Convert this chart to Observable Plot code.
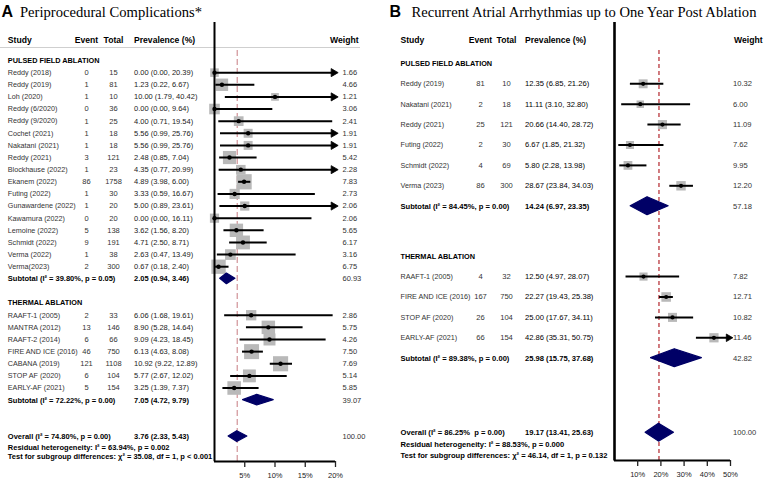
<!DOCTYPE html>
<html><head><meta charset="utf-8">
<script src="https://cdn.jsdelivr.net/npm/d3@7"></script>
<script src="https://cdn.jsdelivr.net/npm/@observablehq/plot@0.6"></script>
<style>
body{margin:0;background:#fff;}
#wrap{position:relative;width:765px;height:480px;overflow:hidden;background:#fff;}
.panel{position:absolute;top:20px;}
#titles{position:absolute;left:0;top:0;}
</style></head>
<body>
<div id="wrap">
<svg id="titles" width="765" height="22">
  <text x="1.5" y="16.7" font-family="'Liberation Sans',Arial,sans-serif" font-weight="bold" font-size="16">A</text>
  <text x="20" y="16.7" font-family="'Liberation Serif','Times New Roman',serif" font-size="14.6">Periprocedural Complications*</text>
  <text x="389.5" y="16.7" font-family="'Liberation Sans',Arial,sans-serif" font-weight="bold" font-size="16">B</text>
  <text x="411.5" y="16.7" font-family="'Liberation Serif','Times New Roman',serif" font-size="14.6">Recurrent Atrial Arrhythmias up to One Year Post Ablation</text>
</svg>
<div id="pA" class="panel" style="left:0"></div>
<div id="pB" class="panel" style="left:385px"></div>
</div>
<script>
// ---------------- Panel A data: Periprocedural complications ----------------
const A_pfa_study = ["Reddy (2018)","Reddy (2019)","Loh (2020)","Reddy (6/2020)","Reddy (9/2020)","Cochet (2021)","Nakatani (2021)","Reddy (2021)","Blockhause (2022)","Ekanem (2022)","Futing (2022)","Gunawardene (2022)","Kawamura (2022)","Lemoine (2022)","Schmidt (2022)","Verma (2022)","Verma(2023)"];
const A_pfa_event = [0,1,1,0,1,1,1,3,1,86,1,1,0,5,9,1,2];
const A_pfa_total = [15,81,10,36,25,18,18,121,23,1758,30,20,20,138,191,38,300];
const A_pfa_est = [0.00,1.23,10.00,0.00,4.00,5.56,5.56,2.48,4.35,4.89,3.33,5.00,0.00,3.62,4.71,2.63,0.67];
const A_pfa_lo = [0.00,0.22,1.79,0.00,0.71,0.99,0.99,0.85,0.77,3.98,0.59,0.89,0.00,1.56,2.50,0.47,0.18];
const A_pfa_hi = [20.39,6.67,40.42,9.64,19.54,25.76,25.76,7.04,20.99,6.00,16.67,23.61,16.11,8.20,8.71,13.49,2.40];
const A_pfa_weight = [1.66,4.66,1.21,3.06,2.41,1.91,1.91,5.42,2.28,7.83,2.73,2.06,2.06,5.65,6.17,3.16,6.75];
const A_pfa_subtotal = [2.05,0.94,3.46,60.93];
const A_pfa_subLabel = "Subtotal (I² = 39.80%, p = 0.05)";

const A_th_study = ["RAAFT-1 (2005)","MANTRA (2012)","RAAFT-2 (2014)","FIRE AND ICE (2016)","CABANA (2019)","STOP AF (2020)","EARLY-AF (2021)"];
const A_th_event = [2,13,6,46,121,6,5];
const A_th_total = [33,146,66,750,1108,104,154];
const A_th_est = [6.06,8.90,9.09,6.13,10.92,5.77,3.25];
const A_th_lo = [1.68,5.28,4.23,4.63,9.22,2.67,1.39];
const A_th_hi = [19.61,14.64,18.45,8.08,12.89,12.02,7.37];
const A_th_weight = [2.86,5.75,4.26,7.50,7.69,5.14,5.85];
const A_th_subtotal = [7.05,4.72,9.79,39.07];
const A_th_subLabel = "Subtotal (I² = 72.22%, p = 0.00)";

const A_overall = [3.76,2.33,5.43,100.00];
const A_overallLabel = "Overall (I² = 74.80%, p = 0.00)";
const A_footers = ["Residual heterogeneity: I² = 63.94%, p = 0.002","Test for subgroup differences: χ² = 35.08, df = 1, p < 0.001"];
const A_ticks = [5,10,15,20];
const A_xmax = 20;

// ---------------- Panel B data: Recurrent atrial arrhythmias ----------------
const B_pfa_study = ["Reddy (2019)","Nakatani (2021)","Reddy (2021)","Futing (2022)","Schmidt (2022)","Verma (2023)"];
const B_pfa_event = [81,2,25,2,4,86];
const B_pfa_total = [10,18,121,30,69,300];
const B_pfa_est = [12.35,11.11,20.66,6.67,5.80,28.67];
const B_pfa_lo = [6.85,3.10,14.40,1.85,2.28,23.84];
const B_pfa_hi = [21.26,32.80,28.72,21.32,13.98,34.03];
const B_pfa_weight = [10.32,6.00,11.09,7.62,9.95,12.20];
const B_pfa_subtotal = [14.24,6.97,23.35,57.18];
const B_pfa_subLabel = "Subtotal (I² = 84.45%, p = 0.00)";

const B_th_study = ["RAAFT-1 (2005)","FIRE AND ICE (2016)","STOP AF (2020)","EARLY-AF (2021)"];
const B_th_event = [4,167,26,66];
const B_th_total = [32,750,104,154];
const B_th_est = [12.50,22.27,25.00,42.86];
const B_th_lo = [4.97,19.43,17.67,35.31];
const B_th_hi = [28.07,25.38,34.11,50.75];
const B_th_weight = [7.82,12.71,10.82,11.46];
const B_th_subtotal = [25.98,15.75,37.68,42.82];
const B_th_subLabel = "Subtotal (I² = 89.38%, p = 0.00)";

const B_overall = [19.17,13.41,25.63,100.00];
const B_overallLabel = "Overall (I² = 86.25%  p = 0.00)";
const B_footers = ["Residual heterogeneity: I² = 88.53%, p = 0.000","Test for subgroup differences: χ² = 46.14, df = 1, p = 0.132"];
const B_ticks = [10,20,30,40,50];
const B_xmax = 50;

const groupNames = ["PULSED FIELD ABLATION","THERMAL ABLATION"];

function group(name, study, event, total, est, lo, hi, weight, sub, subLabel) {
  return {
    name,
    studies: study.map((s, i) => ({study: s, event: event[i], total: total[i], est: est[i], lo: lo[i], hi: hi[i], w: weight[i]})),
    sub: {label: subLabel, est: sub[0], lo: sub[1], hi: sub[2], w: sub[3]}
  };
}
const fmt = v => v.toFixed(2);
const prevText = d => `${fmt(d.est)} (${fmt(d.lo)}, ${fmt(d.hi)})`;

function makePanel(P, L) {
  const rows = [], sections = [], subs = [];
  P.groups.forEach((g, gi) => {
    const G = L.groups[gi];
    sections.push({row: G.head, t: g.name});
    g.studies.forEach((s, i) => rows.push({...s, row: G.first + i}));
    subs.push({...g.sub, row: G.sub});
  });
  const overall = {...P.overall, row: L.overallRow};
  const summaries = [...subs, overall];
  const footers = P.footers.map((t, i) => ({t, row: L.footerRows[i]}));
  const axisRow = (L.height - L.mb - L.y0) / L.step;
  const h = 0.44;
  const dia = summaries.flatMap((s, i) => [
    {id: i, x: s.lo, y1: s.row, y2: s.row},
    {id: i, x: s.est, y1: s.row - h, y2: s.row + h},
    {id: i, x: s.hi, y1: s.row, y2: s.row}
  ]);
  const over = rows.filter(d => d.hi > P.xmax);
  const C = L.cols;
  const F = "'Liberation Sans', Arial, sans-serif";
  const T = (data, text, dx, o = {}) => Plot.text(data, {
    y: "row", text, frameAnchor: "left", dx, textAnchor: o.anchor || "start",
    fontSize: o.size || L.numSize, fontWeight: o.bold ? "bold" : "normal",
    fill: o.fill || "#1a1a1a", fontFamily: F
  });
  const hdr = [{row: L.colHdrRow}];
  const marks = [];
  if (L.hlineRow != null) marks.push(Plot.ruleY([L.hlineRow], {stroke: "#cfcfcf", strokeWidth: 1}));
  marks.push(
    Plot.ruleX([P.overall.est], {y1: L.dashTop, y2: axisRow, stroke: L.dashColor, strokeWidth: 1.3, strokeDasharray: L.dash}),
    Plot.dot(rows, {x: "est", y: "row", r: "w", symbol: "square", fill: "#b9b9b9", sort: null}),
    Plot.ruleY(rows, {y: "row", x1: "lo", x2: d => Math.min(d.hi, P.xmax), stroke: "black", strokeWidth: 2}),
    Plot.dot(over, {x: () => P.xmax, y: "row", symbol: "triangle", rotate: 90, r: L.headR, dx: L.headDx, fill: "black", stroke: "black", strokeWidth: 0.8, strokeLinejoin: "round"}),
    Plot.dot(rows, {x: "est", y: "row", r: L.dotR, fill: "black"}),
    Plot.areaY(dia, {x: "x", y1: "y1", y2: "y2", z: "id", fill: "#000066", stroke: "#000066", strokeWidth: 1.2, strokeLinejoin: "round"}),
    Plot.ruleX([0], {y1: L.vTop, y2: axisRow + 0.03, stroke: "black", strokeWidth: L.vWidth}),
    Plot.ruleY([axisRow], {x1: 0, x2: P.xmax, stroke: "black", strokeWidth: L.axisWidth}),
    Plot.axisX(P.ticks, {tickFormat: d => d + "%", tickSize: 6, tickPadding: L.tickPad, strokeWidth: 1.3, label: null, fontSize: 7.5, fill: "#222", fontFamily: F}),
    // column headers
    T(hdr, () => "Study", C.study, {bold: true, size: 8.6, fill: "black"}),
    T(hdr, () => "Event", C.event, {bold: true, size: 8.6, fill: "black", anchor: "middle"}),
    T(hdr, () => "Total", C.total, {bold: true, size: 8.6, fill: "black", anchor: "middle"}),
    T(hdr, () => "Prevalence (%)", C.prev, {bold: true, size: 8.6, fill: "black"}),
    T(hdr, () => "Weight", C.weightHdr, {bold: true, size: 8.6, fill: "black", anchor: "end"}),
    // section headers
    T(sections, "t", C.study, {bold: true, size: 7.3, fill: "black"}),
    // studies
    T(rows, "study", C.study, {size: L.studySize, fill: "#333"}),
    T(rows, d => String(d.event), C.event, {anchor: "middle", fill: "#333"}),
    T(rows, d => String(d.total), C.total, {anchor: "middle", fill: "#333"}),
    T(rows, prevText, C.prev, {fill: L.prevFill}),
    T(rows, d => fmt(d.w), C.weight, {fill: "#333"}),
    // summaries
    T(summaries, "label", C.study, {bold: true, fill: "black"}),
    T(summaries, prevText, C.prev, {bold: true, fill: "black"}),
    T(summaries, d => fmt(d.w), C.weight, {fill: "#333"}),
    T(footers, "t", C.study, {bold: true, fill: "black"})
  );
  return Plot.plot({
    width: L.width, height: L.height,
    marginLeft: 0, marginRight: L.mr, marginTop: 0, marginBottom: L.mb,
    x: {domain: [0, P.xmax], range: L.xRange, axis: null},
    y: {domain: [0, 10], range: [L.y0, L.y0 + 10 * L.step], axis: null},
    r: {type: "sqrt", domain: [0, d3.max(rows, d => d.w)], range: L.sq},
    style: {fontFamily: F, fontSize: "7.5px", color: "#222", background: "transparent", overflow: "visible"},
    marks
  });
}

const panelA = {
  groups: [
    group(groupNames[0], A_pfa_study, A_pfa_event, A_pfa_total, A_pfa_est, A_pfa_lo, A_pfa_hi, A_pfa_weight, A_pfa_subtotal, A_pfa_subLabel),
    group(groupNames[1], A_th_study, A_th_event, A_th_total, A_th_est, A_th_lo, A_th_hi, A_th_weight, A_th_subtotal, A_th_subLabel)
  ],
  overall: {label: A_overallLabel, est: A_overall[0], lo: A_overall[1], hi: A_overall[2], w: A_overall[3]},
  footers: A_footers, ticks: A_ticks, xmax: A_xmax
};
const layoutA = {
  width: 380, height: 460, mr: 20, mb: 19, y0: 40, step: 12.13, xRange: [214, 335],
  groups: [{head: 0, first: 1, sub: 18}, {head: 20, first: 21, sub: 28}],
  overallRow: 31, footerRows: [31.88, 32.65], colHdrRow: -1.65, hlineRow: -1.07,
  vTop: -3.13, dashTop: -0.82, dash: "6,3", dashColor: "#d49a9f",
  sq: [1.6, 8.6], dotR: 2.2, vWidth: 2, axisWidth: 1.8, headR: 3.0, headDx: -2, tickPad: 5,
  numSize: 7.5, studySize: 7.2, prevFill: "#222",
  cols: {study: 7.3, event: 86, total: 113, prev: 133.5, weight: 342, weightHdr: 358}
};

const panelB = {
  groups: [
    group(groupNames[0], B_pfa_study, B_pfa_event, B_pfa_total, B_pfa_est, B_pfa_lo, B_pfa_hi, B_pfa_weight, B_pfa_subtotal, B_pfa_subLabel),
    group(groupNames[1], B_th_study, B_th_event, B_th_total, B_th_est, B_th_lo, B_th_hi, B_th_weight, B_th_subtotal, B_th_subLabel)
  ],
  overall: {label: B_overallLabel, est: B_overall[0], lo: B_overall[1], hi: B_overall[2], w: B_overall[3]},
  footers: B_footers, ticks: B_ticks, xmax: B_xmax
};
const layoutB = {
  width: 380, height: 460, mr: 0, mb: 20, y0: 63.3, step: 20.4, xRange: [229, 345],
  groups: [{head: -1, first: 0, sub: 6}, {head: 8.47, first: 9.45, sub: 13.45}],
  overallRow: 17.1, footerRows: [17.68, 18.22], colHdrRow: -2.12, hlineRow: null,
  vTop: -3.0, dashTop: -1.63, dash: "4,3", dashColor: "#b8353c",
  sq: [1.6, 5.4], dotR: 2.1, vWidth: 2.6, axisWidth: 2.2, headR: 2.8, headDx: -2, tickPad: 5.5,
  numSize: 7.6, studySize: 7.2, prevFill: "#000",
  cols: {study: 15, event: 95, total: 121, prev: 139.5, weight: 347.5, weightHdr: 377}
};

document.getElementById("pA").appendChild(makePanel(panelA, layoutA));
document.getElementById("pB").appendChild(makePanel(panelB, layoutB));
</script>
</body></html>
